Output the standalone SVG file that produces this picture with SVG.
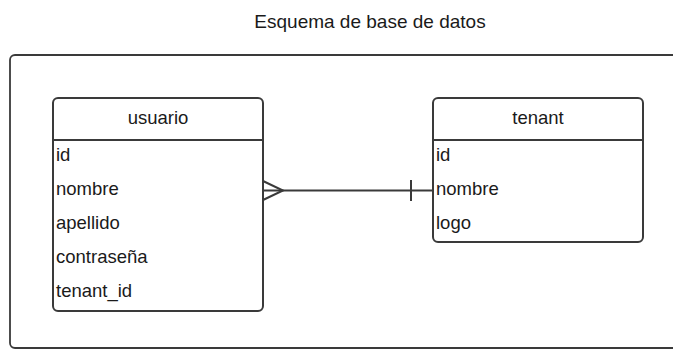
<svg xmlns="http://www.w3.org/2000/svg" width="673" height="350" viewBox="0 0 673 350">
<style>
.frame{fill:none;stroke:#3a3a3a;stroke-width:1.8}
.box{fill:#fff;stroke:#3a3a3a;stroke-width:2}
.div{stroke:#3a3a3a;stroke-width:2}
.t{font-family:"Liberation Sans",Arial,sans-serif;font-size:18.5px;fill:#1a1a1a}
.h{text-anchor:middle}
.title{font-family:"Liberation Sans",Arial,sans-serif;font-size:19px;fill:#1a1a1a;text-anchor:middle}
.c{fill:none;stroke:#3a3a3a;stroke-width:2}
</style>
<rect width="673" height="350" fill="#fff"/>
<text class="title" x="370" y="28">Esquema de base de datos</text>
<rect class="frame" x="10" y="55" width="680" height="293" rx="5"/>
<g id="usuario">
<rect class="box" x="53" y="98" width="210" height="213" rx="5"/>
<line class="div" x1="53" y1="140" x2="263" y2="140"/>
<text class="t h" x="158" y="124">usuario</text>
<text class="t" x="56" y="161">id</text>
<text class="t" x="56" y="195">nombre</text>
<text class="t" x="56" y="229">apellido</text>
<text class="t" x="56" y="263">contraseña</text>
<text class="t" x="56" y="297">tenant_id</text>
</g>
<g id="tenant">
<rect class="box" x="433" y="98" width="210" height="144" rx="5"/>
<line class="div" x1="433" y1="140" x2="643" y2="140"/>
<text class="t h" x="538" y="124">tenant</text>
<text class="t" x="436" y="161">id</text>
<text class="t" x="436" y="195">nombre</text>
<text class="t" x="436" y="229">logo</text>
</g>
<g id="connectors">
<line class="c" x1="263" y1="190.5" x2="433" y2="190.5"/>
<polyline class="c" points="263,181 283,190.5 263,200"/>
<line class="c" x1="411" y1="180" x2="411" y2="201"/>
</g>
</svg>
